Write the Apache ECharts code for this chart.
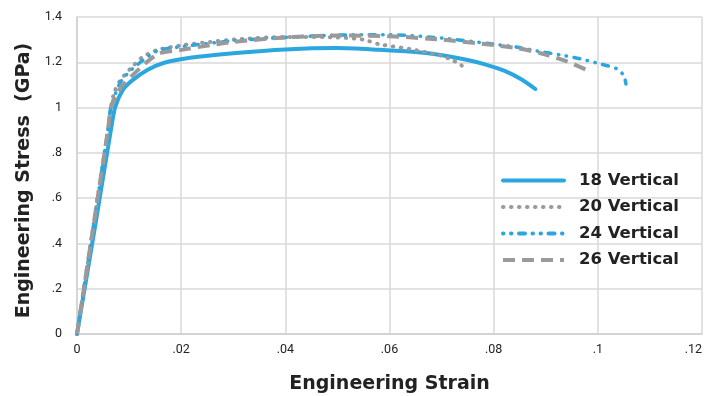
<!DOCTYPE html>
<html>
<head>
<meta charset="utf-8">
<script src="https://cdn.jsdelivr.net/npm/echarts@6/dist/echarts.min.js"></script>
<style>
  html, body { margin: 0; padding: 0; background: #fff; }
  #chart { width: 704px; height: 396px; }
</style>
</head>
<body>
<div id="chart"></div>
<script>
// values
const seriesNames = ["18 Vertical", "20 Vertical", "24 Vertical", "26 Vertical"];

const strain18 = [0, 0.0035, 0.0065, 0.0073, 0.0088, 0.0106, 0.0135, 0.0166, 0.0217, 0.03, 0.04, 0.05, 0.058, 0.065, 0.0698, 0.075, 0.0785, 0.082, 0.0853, 0.088];
const stress18 = [0, 0.48, 0.9, 1.0, 1.078, 1.12, 1.166, 1.197, 1.22, 1.24, 1.257, 1.263, 1.255, 1.245, 1.232, 1.21, 1.19, 1.163, 1.125, 1.082];

const strain20 = [0, 0.003, 0.006, 0.0065, 0.0072, 0.0083, 0.0106, 0.0127, 0.0154, 0.0204, 0.0256, 0.03, 0.04, 0.05, 0.055, 0.058, 0.064, 0.0698, 0.0712, 0.0723, 0.0738, 0.074];
const stress20 = [0, 0.455, 0.91, 1.0, 1.07, 1.12, 1.18, 1.225, 1.254, 1.276, 1.29, 1.3, 1.312, 1.31, 1.3, 1.28, 1.258, 1.23, 1.218, 1.207, 1.188, 1.156];

const strain24 = [0, 0.003, 0.006, 0.0065, 0.0083, 0.0106, 0.0154, 0.0204, 0.03, 0.04, 0.05, 0.06, 0.07, 0.08, 0.0846, 0.089, 0.0929, 0.0967, 0.1006, 0.1038, 0.105, 0.1054];
const stress24 = [0, 0.455, 0.91, 1.0, 1.11, 1.17, 1.25, 1.27, 1.295, 1.31, 1.32, 1.322, 1.307, 1.28, 1.266, 1.247, 1.232, 1.215, 1.192, 1.17, 1.14, 1.104];

const strain26 = [0, 0.003, 0.006, 0.0065, 0.0075, 0.0088, 0.0154, 0.0204, 0.0256, 0.03, 0.04, 0.05, 0.06, 0.07, 0.08, 0.0846, 0.089, 0.0942, 0.0987];
const stress26 = [0, 0.455, 0.91, 1.0, 1.05, 1.1, 1.235, 1.256, 1.276, 1.29, 1.31, 1.318, 1.315, 1.3, 1.276, 1.262, 1.24, 1.203, 1.157];

const BLUE = "#2ba6df";
const GRAY = "#9a9a9a";
const TITLE_FONT = "DejaVu Sans";
const TICK_FONT = "Roboto";

const pairs = (xs, ys) => xs.map((x, i) => [x, ys[i]]);

// drop leading zero like ".02"
const tickFmt = v => {
  if (v === 0) return "0";
  return String(+v.toFixed(2)).replace(/^0\./, ".");
};

const chart = echarts.init(document.getElementById("chart"));

const makeLine = (name, data, color, width, type, cap) => ({
  name: name,
  type: "line",
  data: data,
  smooth: 0.25,
  showSymbol: false,
  symbol: "none",
  itemStyle: { color: color },
  lineStyle: { color: color, width: width, type: type, cap: cap }
});

const option = {
  animation: false,
  grid: { left: 77, right: 2, top: 17, bottom: 62, outerBoundsMode: "none" },
  legend: {
    orient: "vertical",
    left: 496,
    top: 167,
    itemWidth: 61,
    itemHeight: 14,
    itemGap: 9.5,
    itemStyle: { opacity: 0 },
    lineStyle: { width: 4 },
    textStyle: {
      fontFamily: TITLE_FONT,
      fontWeight: "bold",
      fontSize: 16.5,
      color: "#222",
      padding: [0, 0, 0, 10]
    },
    data: seriesNames
  },
  xAxis: {
    type: "value",
    min: 0,
    max: 0.12,
    interval: 0.02,
    name: "Engineering Strain",
    nameLocation: "middle",
    nameGap: 41,
    nameTextStyle: { fontFamily: TITLE_FONT, fontWeight: "bold", fontSize: 19, color: "#222" },
    axisLine: { lineStyle: { color: "#d0d0d0", width: 1.5 } },
    axisTick: { show: false },
    axisLabel: { formatter: tickFmt, fontFamily: TICK_FONT, fontSize: 12.5, color: "#222", margin: 9, alignMaxLabel: "right" },
    splitLine: { show: true, lineStyle: { color: "#d9d9d9", width: 1.5 } }
  },
  yAxis: {
    type: "value",
    min: 0,
    max: 1.4,
    interval: 0.2,
    name: "Engineering Stress  (GPa)",
    nameLocation: "middle",
    nameGap: 40,
    nameTextStyle: { fontFamily: TITLE_FONT, fontWeight: "bold", fontSize: 19, color: "#222", padding: [0, 10, 0, 0] },
    axisLine: { show: true, lineStyle: { color: "#d0d0d0", width: 1.5 } },
    axisTick: { show: false },
    axisLabel: { formatter: tickFmt, fontFamily: TICK_FONT, fontSize: 12.5, color: "#222", margin: 15 },
    splitLine: { show: true, lineStyle: { color: "#d9d9d9", width: 1.5 } }
  },
  series: [
    makeLine(seriesNames[0], pairs(strain18, stress18), BLUE, 4, "solid", "round"),
    makeLine(seriesNames[1], pairs(strain20, stress20), GRAY, 4, [0.5, 7.5], "round"),
    makeLine(seriesNames[2], pairs(strain24, stress24), BLUE, 3.5, [0.5, 7.5, 0.5, 7.5, 6, 7.5], "round"),
    makeLine(seriesNames[3], pairs(strain26, stress26), GRAY, 4, [12, 7], "butt")
  ]
};

chart.setOption(option);
</script>
</body>
</html>
